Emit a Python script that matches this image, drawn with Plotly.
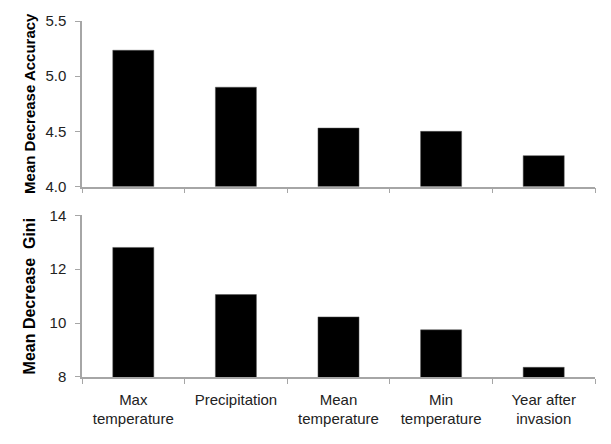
import plotly.graph_objects as go

categories = ["Max temperature", "Precipitation", "Mean temperature", "Min temperature", "Year after invasion"]
tick_labels = ["Max<br>temperature", "Precipitation<br> ", "Mean<br>temperature", "Min<br>temperature", "Year after<br>invasion"]
accuracy = [5.235, 4.90, 4.53, 4.50, 4.28]
gini = [12.81, 11.06, 10.23, 9.75, 8.36]
acc_ticks = [4.0, 4.5, 5.0, 5.5]
gini_ticks = [8, 10, 12, 14]

fig = go.Figure()
fig.add_trace(go.Bar(x=categories, y=accuracy, marker=dict(color="black", line=dict(color="#555", width=0.5)),
                     xaxis="x", yaxis="y", showlegend=False))
fig.add_trace(go.Bar(x=categories, y=gini, marker=dict(color="black", line=dict(color="#555", width=0.5)),
                     xaxis="x2", yaxis="y2", showlegend=False))

axis_color = "#A6A6A6"
font_family = "Liberation Sans, Arial, sans-serif"

common_x = dict(type="category", showline=True, linecolor=axis_color, linewidth=1.5,
                ticks="outside", tickson="boundaries", ticklen=5, tickcolor=axis_color,
                showgrid=False, zeroline=False, categoryorder="array", categoryarray=categories)
common_y = dict(showline=True, linecolor=axis_color, linewidth=1.5, ticks="outside", ticklen=5,
                tickcolor=axis_color, showgrid=False, zeroline=False, ticklabelstandoff=6,
                tickfont=dict(size=15, color="#222", family=font_family))

fig.update_layout(
    width=611, height=444,
    margin=dict(l=82, r=16, t=16, b=67),
    paper_bgcolor="white", plot_bgcolor="white",
    bargap=0.6,
    font=dict(family=font_family, color="#222"),
    xaxis=dict(**common_x, domain=[0, 1], anchor="y", showticklabels=False),
    yaxis=dict(**common_y, domain=[0.535, 1], anchor="x", range=[4.0, 5.5], tickvals=acc_ticks,
               tickformat=".1f",
               title=dict(text="<b>Mean Decrease Accuracy</b>", font=dict(size=15, color="black"), standoff=6)),
    xaxis2=dict(**common_x, domain=[0, 1], anchor="y2", tickvals=categories, ticktext=tick_labels,
                ticklabelstandoff=8,
                tickfont=dict(size=15, color="#222", family=font_family)),
    yaxis2=dict(**common_y, domain=[0, 0.454], anchor="x2", range=[8, 14], tickvals=gini_ticks,
                title=dict(text="<b>Mean Decrease  Gini</b>", font=dict(size=16, color="black"), standoff=10)),
)

fig.write_html("out.html", config={"displayModeBar": False},
               post_script="document.body.style.margin='0';document.body.style.overflow='hidden';")
